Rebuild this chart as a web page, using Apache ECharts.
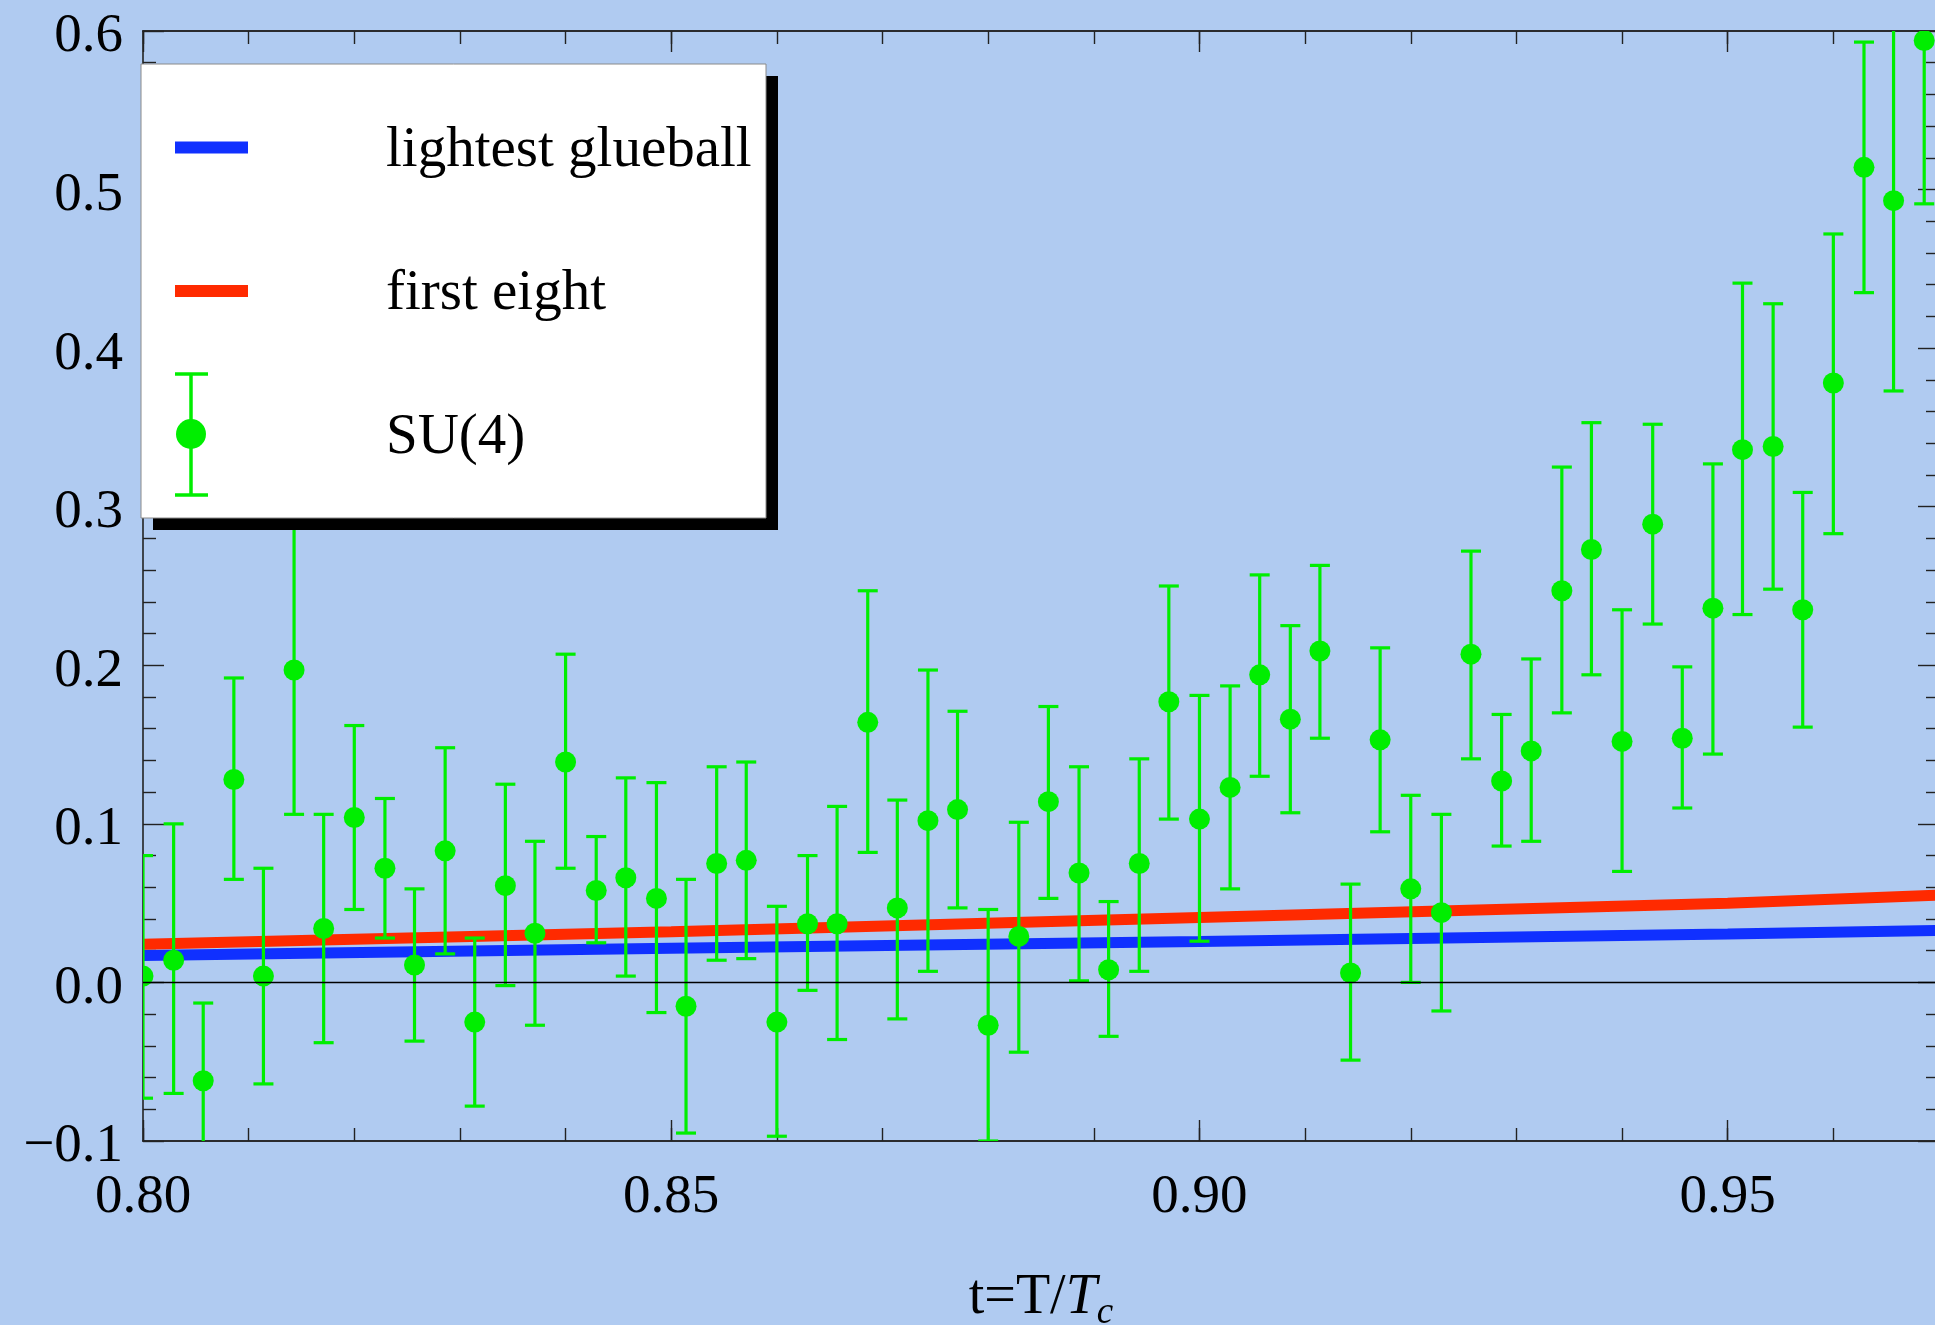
<!DOCTYPE html>
<html>
<head>
<meta charset="utf-8">
<script src="https://cdn.jsdelivr.net/npm/echarts@6/dist/echarts.min.js"></script>
<style>
html,body{margin:0;padding:0;background:#b0cbf1;}
#chart{width:1935px;height:1325px;}
</style>
</head>
<body>
<div id="chart"></div>
<script>
// ---- data ----
const seriesNames = ['lightest glueball', 'first eight', 'SU(4)'];

const lineT = [0.80, 0.85, 0.90, 0.95, 0.97];
const glueball = [0.0170, 0.0215, 0.0258, 0.0305, 0.0328];
const firstEight = [0.0240, 0.0320, 0.0410, 0.0500, 0.0550];

const su4T = [0.8000, 0.8029, 0.8057, 0.8086, 0.8114, 0.8143, 0.8171, 0.8200, 0.8229, 0.8257,
              0.8286, 0.8314, 0.8343, 0.8371, 0.8400, 0.8429, 0.8457, 0.8486, 0.8514, 0.8543,
              0.8571, 0.8600, 0.8629, 0.8657, 0.8686, 0.8714, 0.8743, 0.8771, 0.8800, 0.8829,
              0.8857, 0.8886, 0.8914, 0.8943, 0.8971, 0.9000, 0.9029, 0.9057, 0.9086, 0.9114,
              0.9143, 0.9171, 0.9200, 0.9229, 0.9257, 0.9286, 0.9314, 0.9343, 0.9371, 0.9400,
              0.9429, 0.9457, 0.9486, 0.9514, 0.9543, 0.9571, 0.9600, 0.9629, 0.9657, 0.9686];
const su4Value = [0.004, 0.014, -0.062, 0.128, 0.004, 0.197, 0.034, 0.104, 0.072, 0.011,
                  0.083, -0.025, 0.061, 0.031, 0.139, 0.058, 0.066, 0.053, -0.015, 0.075,
                  0.077, -0.025, 0.037, 0.037, 0.164, 0.047, 0.102, 0.109, -0.027, 0.029,
                  0.114, 0.069, 0.008, 0.075, 0.177, 0.103, 0.123, 0.194, 0.166, 0.209,
                  0.006, 0.153, 0.059, 0.044, 0.207, 0.127, 0.146, 0.247, 0.273, 0.152,
                  0.289, 0.154, 0.236, 0.336, 0.338, 0.235, 0.378, 0.514, 0.493, 0.594];
const su4Upper = [0.080, 0.100, -0.013, 0.192, 0.072, 0.292, 0.106, 0.162, 0.116, 0.059,
                  0.148, 0.028, 0.125, 0.089, 0.207, 0.092, 0.129, 0.126, 0.065, 0.136,
                  0.139, 0.048, 0.080, 0.111, 0.247, 0.115, 0.197, 0.171, 0.046, 0.101,
                  0.174, 0.136, 0.051, 0.141, 0.250, 0.181, 0.187, 0.257, 0.225, 0.263,
                  0.062, 0.211, 0.118, 0.106, 0.272, 0.169, 0.204, 0.325, 0.353, 0.235,
                  0.352, 0.199, 0.327, 0.441, 0.428, 0.309, 0.472, 0.593, 0.612, 0.697];
const su4Lower = [-0.073, -0.070, -0.111, 0.065, -0.064, 0.106, -0.038, 0.046, 0.028, -0.037,
                  0.018, -0.078, -0.002, -0.027, 0.072, 0.025, 0.004, -0.019, -0.095, 0.014,
                  0.015, -0.097, -0.005, -0.036, 0.082, -0.023, 0.007, 0.047, -0.100, -0.044,
                  0.053, 0.001, -0.034, 0.007, 0.103, 0.026, 0.059, 0.130, 0.107, 0.154,
                  -0.049, 0.095, 0.000, -0.018, 0.141, 0.086, 0.089, 0.170, 0.194, 0.070,
                  0.226, 0.110, 0.144, 0.232, 0.248, 0.161, 0.283, 0.435, 0.373, 0.491];

// ---- styling ----
const FONT = '"Liberation Serif", "Times New Roman", serif';
const BLUE = '#1030ff';
const RED = '#ff2a00';
const GREEN = '#00ee00';
const AXIS = '#222';

const chart = echarts.init(document.getElementById('chart'), null, {renderer: 'canvas'});

function xAxisDef(position, interval, tickLen, withLabels) {
  const ax = {
    type: 'value', position: position, min: 0.80, max: 0.97, interval: interval,
    axisLine: {show: true, onZero: false, lineStyle: {color: AXIS, width: 1.6}},
    axisTick: {show: true, inside: true, length: tickLen, lineStyle: {color: AXIS, width: 1.4}},
    axisLabel: {show: false},
    splitLine: {show: false}
  };
  if (withLabels) {
    ax.axisLabel = {
      show: true, margin: 29, showMaxLabel: false,
      fontFamily: FONT, fontSize: 55, color: '#000',
      formatter: v => v.toFixed(2)
    };
    ax.name = '{a|t=T/}{i|T}{s|c}';
    ax.nameLocation = 'middle';
    ax.nameGap = 135;
    ax.nameTextStyle = {
      rich: {
        a: {fontFamily: FONT, fontSize: 56, color: '#000', lineHeight: 56, verticalAlign: 'bottom', padding: [0, 0, 6, 0]},
        i: {fontFamily: FONT, fontSize: 56, fontStyle: 'italic', color: '#000', lineHeight: 56, verticalAlign: 'bottom', padding: [0, 0, 6, 0]},
        s: {fontFamily: FONT, fontSize: 37, fontStyle: 'italic', color: '#000', lineHeight: 37, verticalAlign: 'bottom'}
      }
    };
  }
  return ax;
}

function yAxisDef(position, withLabels) {
  return {
    type: 'value', position: position, min: -0.1, max: 0.6, interval: 0.1,
    axisLine: {show: true, onZero: false, lineStyle: {color: AXIS, width: 1.6}},
    axisTick: {show: true, inside: true, length: 21, lineStyle: {color: AXIS, width: 1.4}},
    minorTick: {show: true, splitNumber: 5, length: 13, lineStyle: {color: AXIS, width: 1.4}},
    splitLine: {show: false},
    axisLabel: withLabels ? {
      show: true, margin: 20,
      formatter: v => '{v|' + (v < 0 ? '\u2212' + Math.abs(v).toFixed(1) : v.toFixed(1)) + '}',
      rich: {
        v: {fontFamily: FONT, fontSize: 55, color: '#000', lineHeight: 55, padding: [12, 0, 0, 0]}
      }
    } : {show: false}
  };
}

const errData = su4T.map((t, i) => [t, su4Value[i], su4Lower[i], su4Upper[i]]);

function renderErr(params, api) {
  const x = api.value(0);
  const c = api.coord([x, api.value(1)]);
  const lo = api.coord([x, api.value(2)]);
  const hi = api.coord([x, api.value(3)]);
  const half = 10;
  const st = {stroke: GREEN, lineWidth: 3.2};
  return {
    type: 'group',
    children: [
      {type: 'line', shape: {x1: c[0], y1: hi[1], x2: c[0], y2: lo[1]}, style: st},
      {type: 'line', shape: {x1: c[0] - half, y1: hi[1], x2: c[0] + half, y2: hi[1]}, style: st},
      {type: 'line', shape: {x1: c[0] - half, y1: lo[1], x2: c[0] + half, y2: lo[1]}, style: st},
      {type: 'circle', shape: {cx: c[0], cy: c[1], r: 10.5}, style: {fill: GREEN}}
    ]
  };
}

// legend drawn as graphic (box with drop shadow)
const LX = 141, LY = 64, LW = 625, LH = 454;
const LFONT = '57px ' + FONT;
const legendGraphic = [
  {type: 'rect', z: 100, shape: {x: LX + 12, y: LY + 12, width: LW, height: LH}, style: {fill: '#000'}},
  {type: 'rect', z: 101, shape: {x: LX, y: LY, width: LW, height: LH}, style: {fill: '#fff', stroke: '#8a8a8a', lineWidth: 1}},
  {type: 'line', z: 102, shape: {x1: 175, y1: 147.5, x2: 248, y2: 147.5}, style: {stroke: BLUE, lineWidth: 12}},
  {type: 'line', z: 102, shape: {x1: 175, y1: 291, x2: 248, y2: 291}, style: {stroke: RED, lineWidth: 12}},
  {type: 'line', z: 102, shape: {x1: 191, y1: 374, x2: 191, y2: 495}, style: {stroke: GREEN, lineWidth: 3.5}},
  {type: 'line', z: 102, shape: {x1: 175, y1: 374, x2: 208, y2: 374}, style: {stroke: GREEN, lineWidth: 3.5}},
  {type: 'line', z: 102, shape: {x1: 175, y1: 495, x2: 208, y2: 495}, style: {stroke: GREEN, lineWidth: 3.5}},
  {type: 'circle', z: 102, shape: {cx: 191, cy: 434, r: 15}, style: {fill: GREEN}},
  {type: 'text', z: 102, x: 386, y: 151, style: {text: seriesNames[0], font: LFONT, fill: '#000', verticalAlign: 'middle'}},
  {type: 'text', z: 102, x: 386, y: 294, style: {text: seriesNames[1], font: LFONT, fill: '#000', verticalAlign: 'middle'}},
  {type: 'text', z: 102, x: 386, y: 438, style: {text: seriesNames[2], font: LFONT, fill: '#000', verticalAlign: 'middle'}}
];

const option = {
  backgroundColor: '#b0cbf1',
  animation: false,
  grid: {left: 143, right: -4, top: 31, bottom: 184, containLabel: false, outerBoundsMode: 'none'},
  xAxis: [
    xAxisDef('bottom', 0.05, 21, true),
    xAxisDef('bottom', 0.01, 13, false),
    xAxisDef('top', 0.05, 21, false),
    xAxisDef('top', 0.01, 13, false)
  ],
  yAxis: [yAxisDef('left', true), yAxisDef('right', false)],
  graphic: legendGraphic,
  series: [
    {
      name: 'zero', type: 'line', data: [], silent: true, z: 1,
      markLine: {silent: true, symbol: 'none', label: {show: false},
        lineStyle: {color: '#000', width: 1.3, type: 'solid'}, data: [{yAxis: 0}]}
    },
    {
      name: seriesNames[0], type: 'line', showSymbol: false, z: 2,
      data: lineT.map((t, i) => [t, glueball[i]]),
      lineStyle: {color: BLUE, width: 11}
    },
    {
      name: seriesNames[1], type: 'line', showSymbol: false, z: 2,
      data: lineT.map((t, i) => [t, firstEight[i]]),
      lineStyle: {color: RED, width: 11}
    },
    {
      name: seriesNames[2], type: 'custom', z: 4, clip: true,
      renderItem: renderErr,
      encode: {x: 0, y: 1},
      data: errData
    }
  ]
};
chart.setOption(option);
</script>
</body>
</html>
